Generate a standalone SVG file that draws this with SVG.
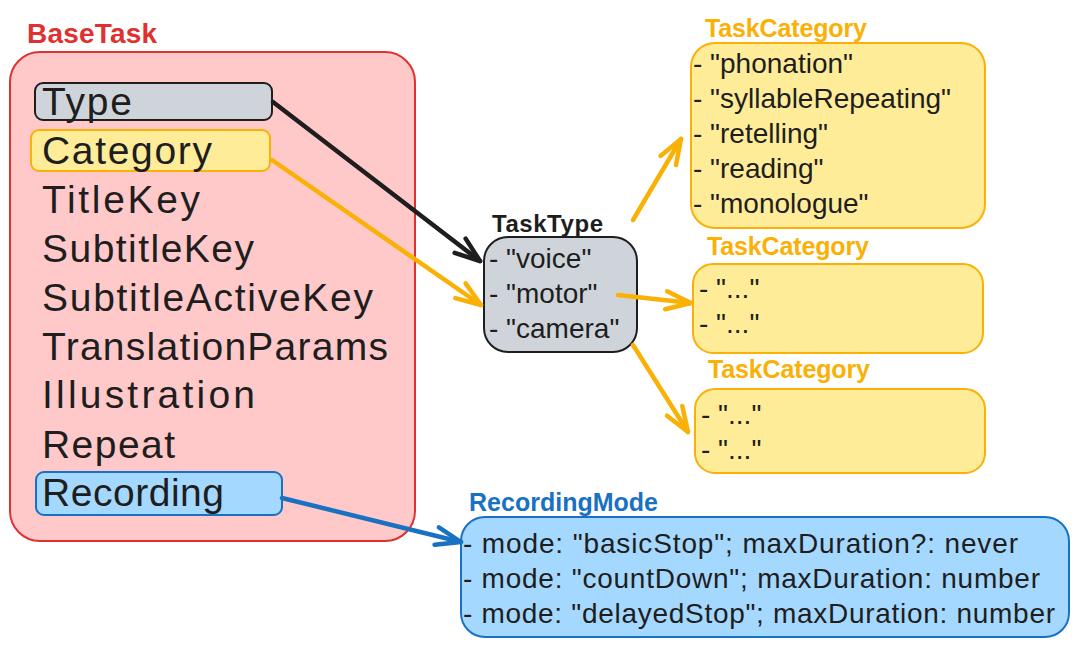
<svg xmlns="http://www.w3.org/2000/svg" width="1079" height="648" viewBox="0 0 1079 648">
<style>
  .hand { font-family: "Liberation Sans", Arial, sans-serif; fill: #1e1e1e; }
  .big { font-size: 39px; }
  .mid { font-size: 28px; }
  .lbl { font-family: "Liberation Sans", Arial, sans-serif; font-weight: bold; }
  .red { fill: #ffc9c9; stroke: #e03131; stroke-width: 2; }
  .gray { fill: #ced4da; stroke: #1e1e1e; stroke-width: 2; }
  .yel { fill: #ffec99; stroke: #fab005; stroke-width: 2; }
  .blue { fill: #a5d8ff; stroke: #1971c2; stroke-width: 2; }
  .conn { fill: none; stroke-width: 4.5; stroke-linecap: round; }
</style>
<defs>
  <marker id="ahBlack" markerUnits="userSpaceOnUse" viewBox="-30 -14 34 28" refX="0" refY="0" markerWidth="34" markerHeight="28" orient="auto">
    <path d="M-25,-9 L0,0 L-25,9" fill="none" stroke="#1e1e1e" stroke-width="4.5" stroke-linecap="round" stroke-linejoin="round"/>
  </marker>
  <marker id="ahYel" markerUnits="userSpaceOnUse" viewBox="-30 -14 34 28" refX="0" refY="0" markerWidth="34" markerHeight="28" orient="auto">
    <path d="M-25,-9 L0,0 L-25,9" fill="none" stroke="#fab005" stroke-width="4.5" stroke-linecap="round" stroke-linejoin="round"/>
  </marker>
  <marker id="ahBlue" markerUnits="userSpaceOnUse" viewBox="-30 -14 34 28" refX="0" refY="0" markerWidth="34" markerHeight="28" orient="auto">
    <path d="M-25,-9 L0,0 L-25,9" fill="none" stroke="#1971c2" stroke-width="4.5" stroke-linecap="round" stroke-linejoin="round"/>
  </marker>
</defs>

<g id="BaseTask">
  <text class="lbl" x="27" y="43" font-size="28" fill="#e03131" textLength="130">BaseTask</text>
  <rect class="red" x="10" y="52" width="405" height="489" rx="30"/>
  <rect class="gray" x="35" y="83" width="237" height="37" rx="8"/>
  <rect class="yel" x="31" y="130" width="239" height="41" rx="8"/>
  <rect class="blue" x="36" y="472" width="246" height="43" rx="8"/>
  <text class="hand big" x="42" y="115" textLength="90">Type</text>
  <text class="hand big" x="42" y="164" textLength="170">Category</text>
  <text class="hand big" x="42" y="213" textLength="158">TitleKey</text>
  <text class="hand big" x="42" y="262" textLength="212">SubtitleKey</text>
  <text class="hand big" x="42" y="311" textLength="331">SubtitleActiveKey</text>
  <text class="hand big" x="42" y="360" textLength="346">TranslationParams</text>
  <text class="hand big" x="42" y="408" textLength="213">Illustration</text>
  <text class="hand big" x="42" y="458" textLength="133">Repeat</text>
  <text class="hand big" x="42" y="506" textLength="182">Recording</text>
</g>

<g id="TaskType">
  <text class="lbl" x="492" y="232" font-size="24" fill="#1e1e1e" textLength="111">TaskType</text>
  <rect class="gray" x="484" y="237" width="153" height="115" rx="24"/>
  <text class="hand mid" x="489" y="268">- "voice"</text>
  <text class="hand mid" x="489" y="303">- "motor"</text>
  <text class="hand mid" x="489" y="338">- "camera"</text>
</g>

<g id="TaskCategory1">
  <text class="lbl" x="705" y="37" font-size="25" fill="#fab005" textLength="162">TaskCategory</text>
  <rect class="yel" x="691" y="43" width="294" height="185" rx="24"/>
  <text class="hand mid" x="693" y="73">- "phonation"</text>
  <text class="hand mid" x="693" y="108">- "syllableRepeating"</text>
  <text class="hand mid" x="693" y="143">- "retelling"</text>
  <text class="hand mid" x="693" y="178">- "reading"</text>
  <text class="hand mid" x="693" y="213">- "monologue"</text>
</g>

<g id="TaskCategory2">
  <text class="lbl" x="707" y="255" font-size="25" fill="#fab005" textLength="162">TaskCategory</text>
  <rect class="yel" x="693" y="264" width="290" height="89" rx="20"/>
  <text class="hand mid" x="699" y="298">- "..."</text>
  <text class="hand mid" x="699" y="333">- "..."</text>
</g>

<g id="TaskCategory3">
  <text class="lbl" x="708" y="378" font-size="25" fill="#fab005" textLength="162">TaskCategory</text>
  <rect class="yel" x="695" y="389" width="290" height="84" rx="20"/>
  <text class="hand mid" x="701" y="424">- "..."</text>
  <text class="hand mid" x="701" y="459">- "..."</text>
</g>

<g id="RecordingMode">
  <text class="lbl" x="469" y="511" font-size="25" fill="#1971c2" textLength="189">RecordingMode</text>
  <rect class="blue" x="461" y="517" width="608" height="120" rx="24"/>
  <text class="hand mid" x="463" y="553" textLength="555">- mode: "basicStop"; maxDuration?: never</text>
  <text class="hand mid" x="463" y="588" textLength="577">- mode: "countDown"; maxDuration: number</text>
  <text class="hand mid" x="463" y="623" textLength="592">- mode: "delayedStop"; maxDuration: number</text>
</g>

<g id="connectors">
  <path class="conn" stroke="#1e1e1e" d="M273,102 L480,261" marker-end="url(#ahBlack)"/>
  <path class="conn" stroke="#fab005" d="M272,160 L481,305" marker-end="url(#ahYel)"/>
  <path class="conn" stroke="#fab005" d="M633,220 L681,139" marker-end="url(#ahYel)"/>
  <path class="conn" stroke="#fab005" d="M618,295 L691,303" marker-end="url(#ahYel)"/>
  <path class="conn" stroke="#fab005" d="M633,345 L688,432" marker-end="url(#ahYel)"/>
  <path class="conn" stroke="#1971c2" d="M282,498 L461,542" marker-end="url(#ahBlue)"/>
</g>
</svg>
